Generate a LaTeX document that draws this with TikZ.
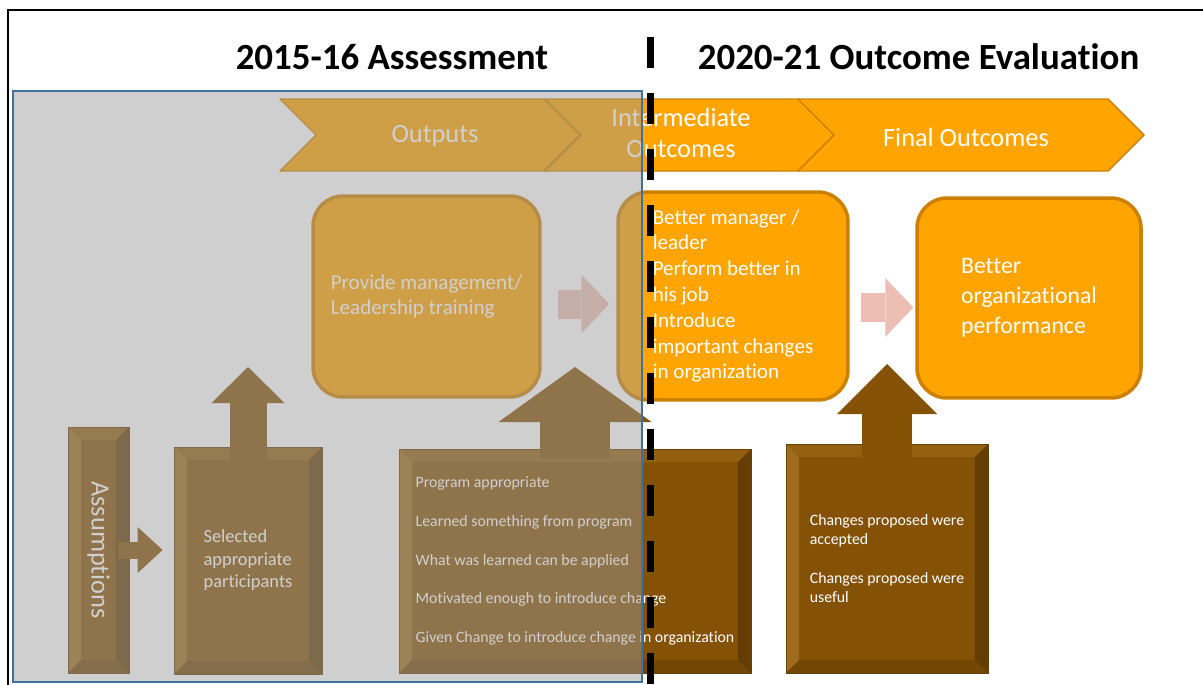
\documentclass[tikz,border=0pt]{standalone}
\usepackage{fontspec}
\setmainfont{Carlito}[Ligatures=NoCommon]
\usepackage{graphicx}
\usetikzlibrary{arrows.meta}

\definecolor{boxorange}{RGB}{255,164,0}
\definecolor{orangeedge}{RGB}{205,128,0}
\definecolor{brownfill}{RGB}{133,82,5}
\definecolor{brownlight}{RGB}{172,118,38}
\definecolor{browndark}{RGB}{85,52,4}
\definecolor{arrowpink}{RGB}{236,190,180}
\definecolor{shadegray}{RGB}{155,155,155}
\definecolor{shadeedge}{RGB}{65,113,156}
\newcommand\bv{0.26cm}

\begin{document}
\begin{tikzpicture}[x=0.02cm,y=-0.02cm,
	title/.style={font=\bfseries\fontsize{21}{25}\selectfont},
	chevron/.style={fill=boxorange,draw=orangeedge,line width=0.8pt,line join=round},
	chevlabel/.style={text=white,font=\fontsize{15}{18}\selectfont,align=center},
	roundbox/.style={fill=boxorange,draw=orangeedge,line width=2pt,rounded corners=0.6cm,
		text=white,align=left,inner sep=0pt},
	bevel/.style={path picture={
		\coordinate (nw) at (path picture bounding box.north west);
		\coordinate (ne) at (path picture bounding box.north east);
		\coordinate (sw) at (path picture bounding box.south west);
		\coordinate (se) at (path picture bounding box.south east);
		\fill[brownlight!35!brownfill] (nw) -- (ne) -- ([xshift=-\bv,yshift=-\bv]ne) -- ([xshift=\bv,yshift=-\bv]nw) -- cycle;
		\fill[brownlight!70!brownfill] (nw) -- (sw) -- ([xshift=\bv,yshift=\bv]sw) -- ([xshift=\bv,yshift=-\bv]nw) -- cycle;
		\fill[browndark!70!brownfill] (ne) -- (se) -- ([xshift=-\bv,yshift=\bv]se) -- ([xshift=-\bv,yshift=-\bv]ne) -- cycle;
		\fill[browndark!40!brownfill] (sw) -- (se) -- ([xshift=-\bv,yshift=\bv]se) -- ([xshift=\bv,yshift=\bv]sw) -- cycle;}},
	brownbox/.style={fill=brownfill,draw=browndark!60!brownfill,line width=0.5pt,bevel,
		text=white,align=left,inner sep=0pt},
	pinkarrow/.style={draw=arrowpink,line width=0.58cm,
		-{Triangle[length=0.56cm,width=1.18cm,line width=0pt]}},
	blockup/.style n args={3}{draw=brownfill,line width=#1,
		-{Triangle[length=#2,width=#3,line width=0pt]}},
	pastshade/.style={fill=shadegray,fill opacity=0.47,draw=shadeedge,line width=0.04cm},
	divider/.style={line width=0.14cm,dash pattern=on 0.62cm off 0.5cm}]
	\useasboundingbox (0,0) rectangle (1203,684);
	\clip (0,0) rectangle (1203,684);
	\fill[white] (0,0) rectangle (1203,684);
	% draw chevrons
	\foreach \a/\b in {280/580,545/834,798/1144}
		\draw[chevron] (\a,99) -- (\b-36,99) -- (\b,135) -- (\b-36,171) -- (\a,171) -- (\a+36,135) -- cycle;
	\node[chevlabel] (outputslbl) at (435,136) {Outputs};
	\node[chevlabel] (interlbl) at (681,133) {Intermediate\\Outcomes};
	\node[chevlabel] (finallbl) at (966,137) {Final Outcomes};
	% draw outcome boxes
	\node[roundbox,minimum width=4.54cm,minimum height=4.02cm,font=\fontsize{12}{14.7}\selectfont]
		(provide) at (426.5,296.5) {Provide management/\\Leadership training};
	\node[roundbox,minimum width=4.6cm,minimum height=4.16cm,font=\fontsize{12}{14.7}\selectfont]
		(inter) at (733,296) {Better manager /\\leader\\Perform better in\\his job\\Introduce\\important changes\\in organization};
	\node[roundbox,minimum width=4.48cm,minimum height=4cm,font=\fontsize{13.5}{17}\selectfont]
		(final) at (1029,298) {Better\\organizational\\performance};
	\coordinate (row1) at (0,304);
	\coordinate (row2) at (0,307.5);
	\draw[pinkarrow,shorten <=0.32cm,shorten >=0.14cm] (provide.east |- row1) -- (inter.west |- row1);
	\draw[pinkarrow,shorten <=0.22cm,shorten >=0.04cm] (inter.east |- row2) -- (final.west |- row2);
	% draw assumption boxes
	\node[brownbox,minimum width=1.22cm,minimum height=4.92cm,font=\fontsize{15}{18}\selectfont]
		(assume) at (98.5,550) {\rotatebox{-90}{Assumptions}};
	\node[brownbox,minimum width=2.96cm,minimum height=4.54cm,font=\fontsize{10.5}{12.8}\selectfont]
		(sel) at (248,560.5) {Selected\\appropriate\\participants};
	\node[brownbox,minimum width=7.04cm,minimum height=4.48cm,font=\fontsize{9}{11}\selectfont]
		(mid) at (575,561) {Program appropriate\\[11pt]Learned something from program\\[11pt]What was learned can be applied\\[11pt]Motivated enough to introduce change\\[11pt]Given Change to introduce change in organization};
	\node[brownbox,minimum width=4.04cm,minimum height=4.58cm,font=\fontsize{9}{11}\selectfont]
		(uptake) at (887,558.5) {Changes proposed were\\accepted\\[11pt]Changes proposed were\\useful};
	\coordinate (seltip) at (248,367);
	\coordinate (midtip) at (575,367);
	\coordinate (uptaketip) at (887,364);
	\draw[blockup={0.74cm}{0.72cm}{1.46cm}] ([yshift=-0.26cm]sel.north) -- (seltip);
	\draw[blockup={1.4cm}{1.1cm}{3.06cm}] ([yshift=-0.2cm]mid.north) -- (midtip);
	\draw[blockup={1cm}{1cm}{2cm}] ([yshift=-0.3cm]uptake.north) -- (uptaketip);
	\draw[blockup={0.34cm}{0.5cm}{0.92cm},shorten >=0.22cm] ([xshift=-0.22cm]assume.east) -- (assume.east -| sel.west);
	% draw assessment scope
	\draw[pastshade] (13,91) rectangle (642,682);
	\coordinate (divtop) at (650,37);
	\coordinate (divbot) at (650,700);
	\draw[divider] (divtop) -- (divbot);
	\draw[line width=0.05cm] (8,10) rectangle (1220,700);
	% draw titles
	\node[title] (pasttitle) at (392,57) {2015-16 Assessment};
	\node[title] (futuretitle) at (918.5,57) {2020-21 Outcome Evaluation};
\end{tikzpicture}
\end{document}
